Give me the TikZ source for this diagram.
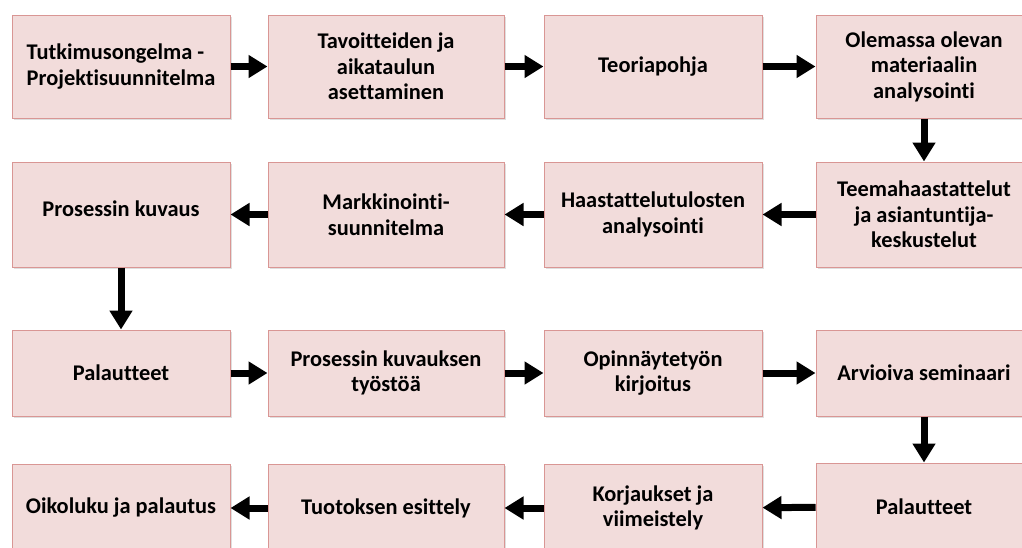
\documentclass[tikz,border=0pt]{standalone}
\usepackage{fontspec}
\setmainfont{Carlito}[Ligatures=NoCommon]
\usetikzlibrary{arrows.meta,shadows}
\definecolor{boxfill}{RGB}{242,220,219}
\definecolor{boxline}{RGB}{217,150,148}
\begin{document}
\begin{tikzpicture}[x=1pt,y=-1pt,
  box/.style={draw=boxline, line width=1pt, fill=boxfill, align=center,
    font=\fontsize{22.4}{25.5}\selectfont\bfseries, inner sep=2pt,
    drop shadow={opacity=0.25, shadow xshift=1.5pt, shadow yshift=-2pt}},
  flow/.style={line width=7pt, -{Triangle[width=22pt,length=19pt]}}]
  \clip (0,0) rectangle (1022,547);
  \fill[white] (0,0) rectangle (1022,547);
  % first row
  \node[box, align=left, minimum width=218pt, minimum height=103pt] (tutkimus) at (121,66.5) {Tutkimusongelma -\\Projektisuunnitelma};
  \node[box, minimum width=236pt, minimum height=103pt] (tavoitteet) at (386,66.5) {Tavoitteiden ja\\aikataulun\\asettaminen};
  \node[box, minimum width=218pt, minimum height=103pt] (teoria) at (653,66.5) {Teoriapohja};
  \node[box, minimum width=216pt, minimum height=103pt] (materiaali) at (924,66.5) {Olemassa olevan\\materiaalin\\analysointi};
  % second row
  \node[box, minimum width=216pt, minimum height=105pt] (teema) at (924,214.5) {Teemahaastattelut\\ja asiantuntija-\\keskustelut};
  \node[box, minimum width=218pt, minimum height=105pt] (haastattelu) at (653,214.5) {Haastattelutulosten\\analysointi};
  \node[box, minimum width=236pt, minimum height=105pt] (markkinointi) at (386,214.5) {Markkinointi-\\suunnitelma};
  \node[box, minimum width=218pt, minimum height=105pt] (prosessi) at (121,214.5) {\raisebox{12pt}{Prosessin kuvaus}};
  % third row
  \node[box, minimum width=218pt, minimum height=86pt] (palaute) at (121,373) {Palautteet};
  \node[box, minimum width=236pt, minimum height=86pt] (tyosto) at (386,373) {Prosessin kuvauksen\\työstöä};
  \node[box, minimum width=218pt, minimum height=86pt] (kirjoitus) at (653,373) {Opinnäytetyön\\kirjoitus};
  \node[box, minimum width=216pt, minimum height=86pt] (seminaari) at (924,373) {Arvioiva seminaari};
  % fourth row
  \node[box, minimum width=216pt, minimum height=88pt] (palaute2) at (924,507) {Palautteet};
  \node[box, minimum width=218pt, minimum height=88pt] (korjaus) at (653,508) {Korjaukset ja\\viimeistely};
  \node[box, minimum width=236pt, minimum height=88pt] (esittely) at (386,508) {Tuotoksen esittely};
  \node[box, minimum width=218pt, minimum height=88pt] (oikoluku) at (121,508) {Oikoluku ja palautus};
  % connectors
  \draw[flow] (tutkimus) -- (tavoitteet);
  \draw[flow] (tavoitteet) -- (teoria);
  \draw[flow] (teoria) -- (materiaali);
  \draw[flow] (materiaali) -- (teema);
  \draw[flow] (teema) -- (haastattelu);
  \draw[flow] (haastattelu) -- (markkinointi);
  \draw[flow] (markkinointi) -- (prosessi);
  \draw[flow] (prosessi) -- (palaute);
  \draw[flow] (palaute) -- (tyosto);
  \draw[flow] (tyosto) -- (kirjoitus);
  \draw[flow] (kirjoitus) -- (seminaari);
  \draw[flow] (seminaari) -- (palaute2);
  \draw[flow] (palaute2) -- (korjaus);
  \draw[flow] (korjaus) -- (esittely);
  \draw[flow] (esittely) -- (oikoluku);
\end{tikzpicture}
\end{document}
